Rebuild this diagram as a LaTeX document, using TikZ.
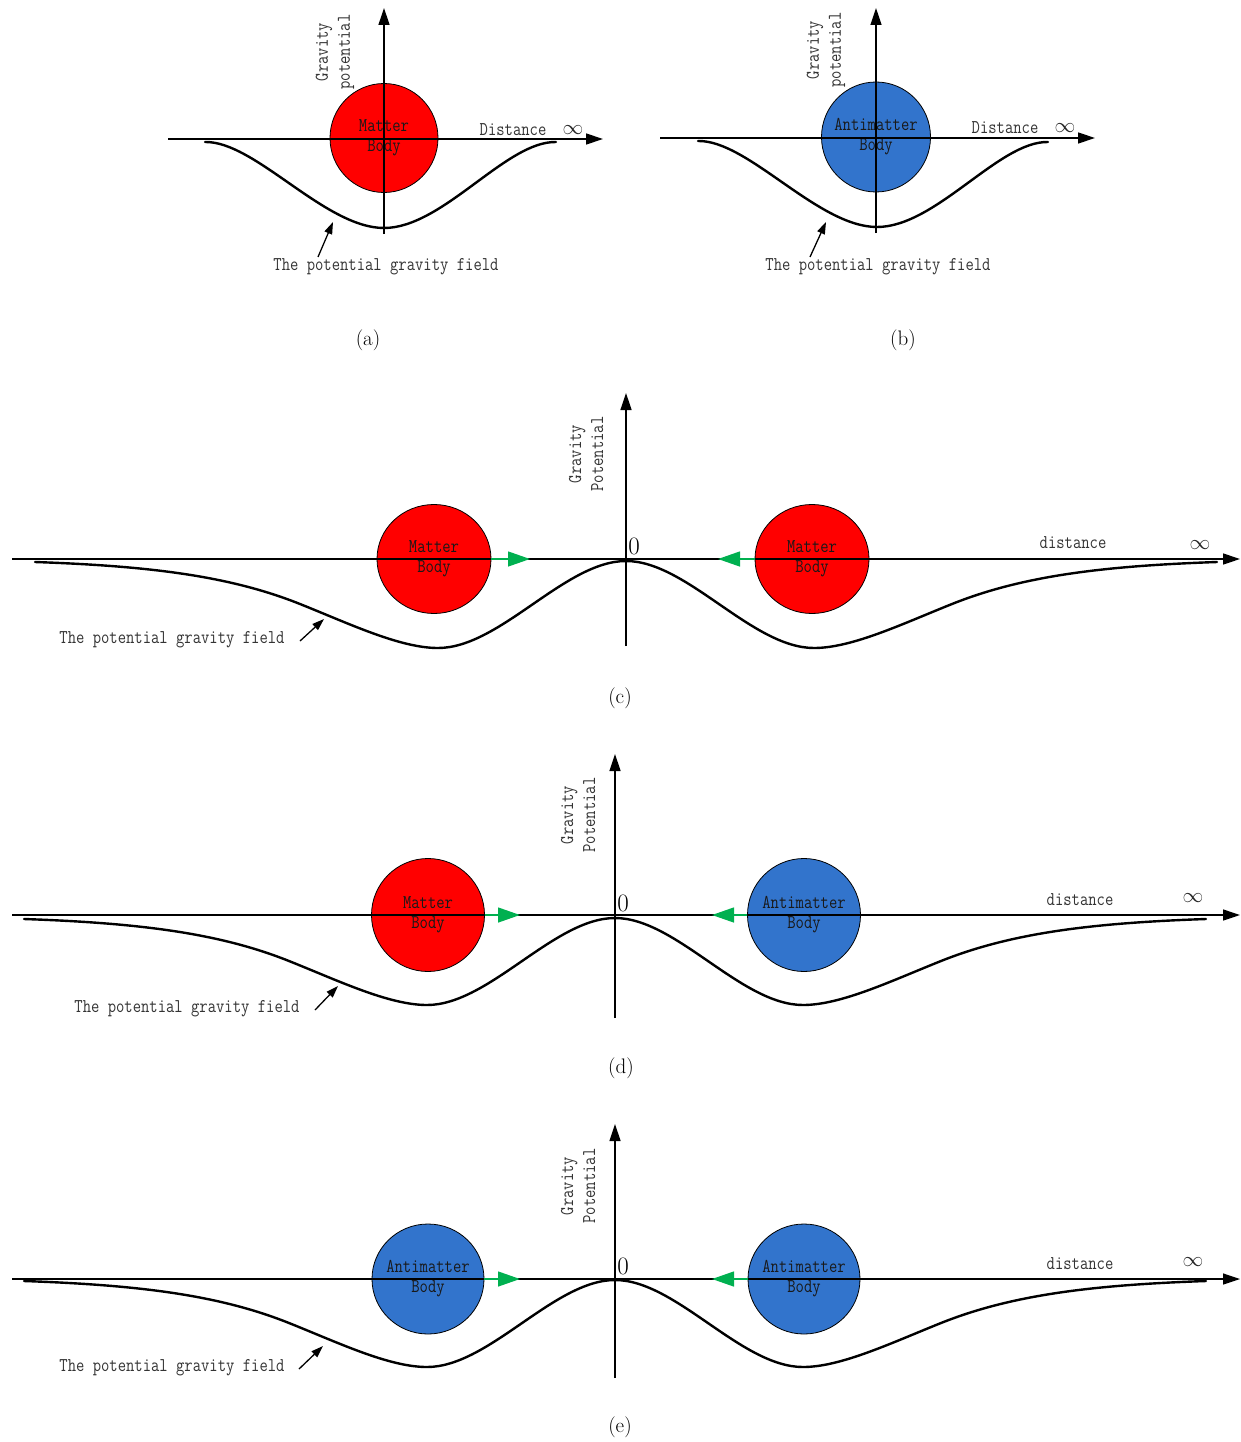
\documentclass[tikz,border=0pt]{standalone}
\usepackage{fontspec}
\usetikzlibrary{arrows.meta,shapes.geometric}
\newfontfamily\labfont[FakeStretch=0.83]{Latin Modern Mono}

\definecolor{matterred}{RGB}{255,0,0}
\definecolor{antiblue}{RGB}{50,116,204}
\definecolor{pushgreen}{RGB}{0,176,80}

\tikzset{
  axis/.style={line width=1.3pt,-{Triangle[length=17pt,width=11pt]}},
  well/.style={line width=2.4pt,line cap=round},
  body/.style={ellipse,draw,line width=0.8pt,inner sep=0pt},
  matter/.style={body,fill=matterred},
  anti/.style={body,fill=antiblue},
  bodytext/.style={align=center,inner sep=0pt,
    font=\labfont\fontsize{19.5}{20}\selectfont,text=black!90},
  lab/.style={font=\labfont\fontsize{19.5}{22}\selectfont,text=black!80,inner sep=0pt},
  axlab/.style={lab,rotate=90,align=center},
  pointer/.style={line width=1.3pt,-{Triangle[length=12pt,width=8pt]}},
  push/.style={draw=pushgreen,line width=1.3pt,-{Triangle[length=22pt,width=15pt]},fill=pushgreen},
  inf/.style={font=\fontsize{22}{24}\selectfont,text=black!85,inner sep=0pt},
  zero/.style={font=\fontsize{25}{28}\selectfont,inner sep=0pt},
  subcap/.style={font=\fontsize{21}{24}\selectfont,inner sep=0pt},
  bigwell/.pic={
    \draw[well] (-591,1) .. controls (-476,5) and (-396,15) .. (-326,43)
      .. controls (-276,63) and (-226,87) .. (-188,87)
      .. controls (-126,87) and (-61,0) .. (0,0)
      .. controls (61,0) and (126,87) .. (188,87)
      .. controls (226,87) and (276,63) .. (326,43)
      .. controls (396,15) and (476,5) .. (591,1);
  }
}

\begin{document}
\begin{tikzpicture}[x=1pt,y=-1pt]
\useasboundingbox (0,0) rectangle (1241,1442);

% ---------- (a) a single matter body ----------
\node[matter,minimum width=108,minimum height=109] (aB) at (384,138) {};
\node[bodytext] (aBt) at (aB.center) {Matter\\Body};
\draw[well] (205,142) .. controls (255,141) and (325,228) .. (384,228)
  .. controls (443,228) and (506,141) .. (556,142);
\coordinate (aX0) at (168,139); \coordinate (aX1) at (603,139);
\coordinate (aY0) at (384,234); \coordinate (aY1) at (384,8);
\draw[axis] (aX0) -- (aX1);
\draw[axis] (aY0) -- (aY1);
\node[lab] (aD) at (513,130) {Distance};
\node[inf] (aI) at (573,130) {$\infty$};
\node[axlab] (aG) at (335,52) {Gravity\\potential};
\node[lab] (aL) at (386,267) {The potential gravity field};
\coordinate (aP0) at (318,257); \coordinate (aP1) at (333,222);
\draw[pointer] (aP0) -- (aP1);
\node[subcap] (aC) at (368,340) {(a)};

% ---------- (b) a single antimatter body ----------
\node[anti,minimum width=109,minimum height=110] (bB) at (876,137) {};
\node[bodytext] (bBt) at (bB.center) {Antimatter\\Body};
\draw[well] (698,141) .. controls (748,140) and (818,227) .. (877,227)
  .. controls (936,227) and (999,141) .. (1048,142);
\coordinate (bX0) at (660,138); \coordinate (bX1) at (1095,138);
\coordinate (bY0) at (876,233); \coordinate (bY1) at (876,8);
\draw[axis] (bX0) -- (bX1);
\draw[axis] (bY0) -- (bY1);
\node[lab] (bD) at (1005,128) {Distance};
\node[inf] (bI) at (1065,128) {$\infty$};
\node[axlab] (bG) at (826,50) {Gravity\\potential};
\node[lab] (bL) at (878,267) {The potential gravity field};
\coordinate (bP0) at (810,257); \coordinate (bP1) at (826,222);
\draw[pointer] (bP0) -- (bP1);
\node[subcap] (bC) at (903,340) {(b)};

% ---------- (c) matter and matter ----------
\node[matter,minimum width=114,minimum height=109] (cL) at (434,559) {};
\node[matter,minimum width=114,minimum height=109] (cR) at (812,559) {};
\node[bodytext] (cLt) at (cL.center) {Matter\\Body};
\node[bodytext] (cRt) at (cR.center) {Matter\\Body};
\pic at (626,561) {bigwell};
\coordinate (cX0) at (12,559); \coordinate (cX1) at (1240,559);
\coordinate (cY0) at (626,646); \coordinate (cY1) at (626,393);
\draw[axis] (cX0) -- (cX1);
\draw[axis] (cY0) -- (cY1);
\coordinate (cTL) at (530,559); \coordinate (cTR) at (718,559);
\draw[push] (cL.east) -- (cTL);
\draw[push] (cR.west) -- (cTR);
\node[zero] (cZ) at (634,546) {0};
\node[lab] (cD) at (1073,543) {distance};
\node[inf] (cI) at (1200,545) {$\infty$};
\node[axlab] (cG) at (586,454) {Gravity\\Potential};
\node[lab] (cLab) at (172,640) {The potential gravity field};
\coordinate (cP0) at (300,641); \coordinate (cP1) at (324,619);
\draw[pointer] (cP0) -- (cP1);
\node[subcap] (cC) at (620,698) {(c)};

% ---------- (d) matter and antimatter ----------
\node[matter,minimum width=113,minimum height=113] (dL) at (428,915) {};
\node[anti,minimum width=113,minimum height=113] (dR) at (804,915) {};
\node[bodytext] (dLt) at (dL.center) {Matter\\Body};
\node[bodytext] (dRt) at (dR.center) {Antimatter\\Body};
\pic at (615,918) {bigwell};
\coordinate (dX0) at (12,915); \coordinate (dX1) at (1240,915);
\coordinate (dY0) at (615,1018); \coordinate (dY1) at (615,754);
\draw[axis] (dX0) -- (dX1);
\draw[axis] (dY0) -- (dY1);
\coordinate (dTL) at (520,915); \coordinate (dTR) at (712,915);
\draw[push] (dL.east) -- (dTL);
\draw[push] (dR.west) -- (dTR);
\node[zero] (dZ) at (623,903) {0};
\node[lab] (dD) at (1080,900) {distance};
\node[inf] (dI) at (1193,898) {$\infty$};
\node[axlab] (dG) at (578,815) {Gravity\\Potential};
\node[lab] (dLab) at (187,1009) {The potential gravity field};
\coordinate (dP0) at (315,1010); \coordinate (dP1) at (338,986);
\draw[pointer] (dP0) -- (dP1);
\node[subcap] (dC) at (621,1068) {(d)};

% ---------- (e) antimatter and antimatter ----------
\node[anti,minimum width=112,minimum height=110] (eL) at (428,1279) {};
\node[anti,minimum width=112,minimum height=110] (eR) at (804,1279) {};
\node[bodytext] (eLt) at (eL.center) {Antimatter\\Body};
\node[bodytext] (eRt) at (eR.center) {Antimatter\\Body};
\pic at (615,1280) {bigwell};
\coordinate (eX0) at (12,1279); \coordinate (eX1) at (1240,1279);
\coordinate (eY0) at (615,1378); \coordinate (eY1) at (615,1124);
\draw[axis] (eX0) -- (eX1);
\draw[axis] (eY0) -- (eY1);
\coordinate (eTL) at (520,1279); \coordinate (eTR) at (712,1279);
\draw[push] (eL.east) -- (eTL);
\draw[push] (eR.west) -- (eTR);
\node[zero] (eZ) at (623,1266) {0};
\node[lab] (eD) at (1080,1264) {distance};
\node[inf] (eI) at (1193,1262) {$\infty$};
\node[axlab] (eG) at (578,1186) {Gravity\\Potential};
\node[lab] (eLab) at (172,1368) {The potential gravity field};
\coordinate (eP0) at (299,1369); \coordinate (eP1) at (323,1346);
\draw[pointer] (eP0) -- (eP1);
\node[subcap] (eC) at (620,1427) {(e)};
\end{tikzpicture}
\end{document}
